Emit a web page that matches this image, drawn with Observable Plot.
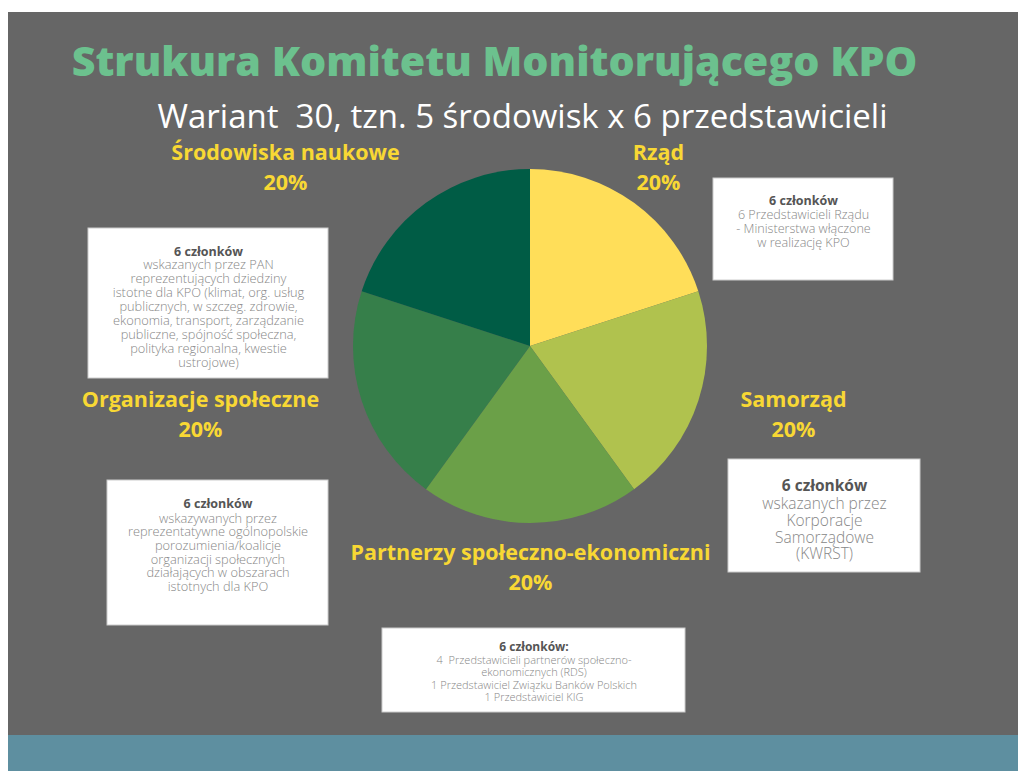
<!DOCTYPE html>
<html><head><meta charset="utf-8">
<script src="https://cdn.jsdelivr.net/npm/d3@7"></script>
<script src="https://cdn.jsdelivr.net/npm/@observablehq/plot@0.6"></script>
<style>
html,body{margin:0;padding:0;background:#fff;}
#wrap{position:relative;width:1018px;height:771px;overflow:hidden;}
#panel{position:absolute;left:8px;top:12px;width:1010px;height:723px;background:#666666;}
#band{position:absolute;left:8px;top:735px;width:1010px;height:36px;background:#5e8fa0;}
#chart{position:absolute;left:0;top:0;}
</style></head><body>
<div id="wrap"><div id="panel"></div><div id="band"></div><div id="chart"></div></div>
<script>
// ---- data ----
const titleText = "Strukura Komitetu Monitorującego KPO";
const subtitleText = "Wariant  30, tzn. 5 środowisk x 6 przedstawicieli";
const categories = ["Rząd", "Samorząd", "Partnerzy społeczno-ekonomiczni", "Organizacje społeczne", "Środowiska naukowe"];
const shares = [20, 20, 20, 20, 20];
const shareLabels = ["20%", "20%", "20%", "20%", "20%"];
const boxHeads = ["6 członków", "6 członków", "6 członków:", "6 członków", "6 członków"];
const boxBodies = [
  ["6 Przedstawicieli Rządu", "- Ministerstwa włączone", "w realizację KPO"],
  ["wskazanych przez", "Korporacje", "Samorządowe", "(KWRST)"],
  ["4  Przedstawicieli partnerów społeczno-", "ekonomicznych (RDS)", "1 Przedstawiciel Związku Banków Polskich", "1 Przedstawiciel KIG"],
  ["wskazywanych przez", "reprezentatywne ogólnopolskie", "porozumienia/koalicje", "organizacji społecznych", "działających w obszarach", "istotnych dla KPO"],
  ["wskazanych przez PAN", "reprezentujących dziedziny", "istotne dla KPO (klimat, org. usług", "publicznych, w szczeg. zdrowie,", "ekonomia, transport, zarządzanie", "publiczne, spójność społeczna,", "polityka regionalna, kwestie", "ustrojowe)"]
];

// ---- styles / layout ----
const colors = ["#FFDE59", "#B0C24E", "#6BA048", "#367F4A", "#005C45"];
const labelColor = "#F8D834";
const pie = {cx: 530, cy: 346, r: 177};
const labelLayout = [
  {x: 658, y: 153}, {x: 793, y: 400}, {x: 530, y: 553}, {x: 200, y: 400}, {x: 285, y: 153}
];
const boxLayout = [
  {x1: 713, x2: 893, y1: 178, y2: 280, head: 200.7, headSize: 12.5, first: 213.5, lh: 14.1, size: 12.6},
  {x1: 728, x2: 920, y1: 459, y2: 572, head: 485.7, headSize: 15.5, first: 503.3, lh: 16.7, size: 15.5},
  {x1: 382, x2: 685, y1: 628, y2: 712, head: 646.7, headSize: 12, first: 660, lh: 12.1, size: 11},
  {x1: 107, x2: 328, y1: 480, y2: 625, head: 503.3, headSize: 12.5, first: 517.7, lh: 13.7, size: 12.8},
  {x1: 88, x2: 328, y1: 228, y2: 378, head: 251, headSize: 12.5, first: 264.3, lh: 13.9, size: 12.8}
];

const rows = categories.map((c, i) => ({
  category: c, share: shares[i], label: shareLabels[i],
  head: boxHeads[i], body: boxBodies[i].join("\n"), n: boxBodies[i].length,
  ...labelLayout[i], box: boxLayout[i]
}));

function pieMark(index, scales) {
  const g = d3.create("svg:g");
  const cx = scales.x(pie.cx), cy = scales.y(pie.cy);
  const r = Math.abs(scales.x(pie.cx + pie.r) - scales.x(pie.cx));
  const arcs = d3.pie().sort(null).value(d => d.share)(rows);
  const arc = d3.arc().innerRadius(0).outerRadius(r);
  g.attr("transform", `translate(${cx},${cy})`);
  g.selectAll("path").data(arcs).join("path")
    .attr("d", arc)
    .attr("fill", (d, i) => colors[i]);
  return g.node();
}

const boxTextMarks = rows.flatMap(d => [
  Plot.text([d], {x: (d.box.x1 + d.box.x2) / 2, y: d.box.head, text: "head", fontSize: d.box.headSize, fontWeight: 700, fill: "#555555"}),
  Plot.text([d], {x: (d.box.x1 + d.box.x2) / 2, y: d.box.first + (d.n - 1) * d.box.lh / 2, text: "body", fontSize: d.box.size, lineHeight: d.box.lh / d.box.size, fontWeight: 300, fill: "#878787"})
]);

const chart = Plot.plot({
  width: 1018, height: 771, margin: 0,
  x: {domain: [0, 1018], range: [0, 1018], axis: null},
  y: {domain: [0, 771], range: [0, 771], axis: null},
  style: {background: "transparent", fontFamily: "'Open Sans', sans-serif"},
  marks: [
    Plot.text([titleText], {x: 494, y: 62, text: d => d, fontSize: 41.2, fontWeight: 800, fill: "#6cc18e"}),
    Plot.text([subtitleText], {x: 522, y: 117, text: d => d, fontSize: 33, fontWeight: 400, fill: "#ffffff"}),
    pieMark,
    Plot.rect(rows, {x1: d => d.box.x1, x2: d => d.box.x2, y1: d => d.box.y1, y2: d => d.box.y2, fill: "#ffffff", stroke: "#cccccc", strokeWidth: 1}),
    ...boxTextMarks,
    Plot.text(rows, {x: "x", y: "y", text: "category", fontSize: 21.5, fontWeight: 700, fill: labelColor}),
    Plot.text(rows, {x: "x", y: d => d.y + 30, text: "label", fontSize: 21.5, fontWeight: 700, fill: labelColor})
  ]
});
document.getElementById("chart").appendChild(chart);
</script>
</body></html>
